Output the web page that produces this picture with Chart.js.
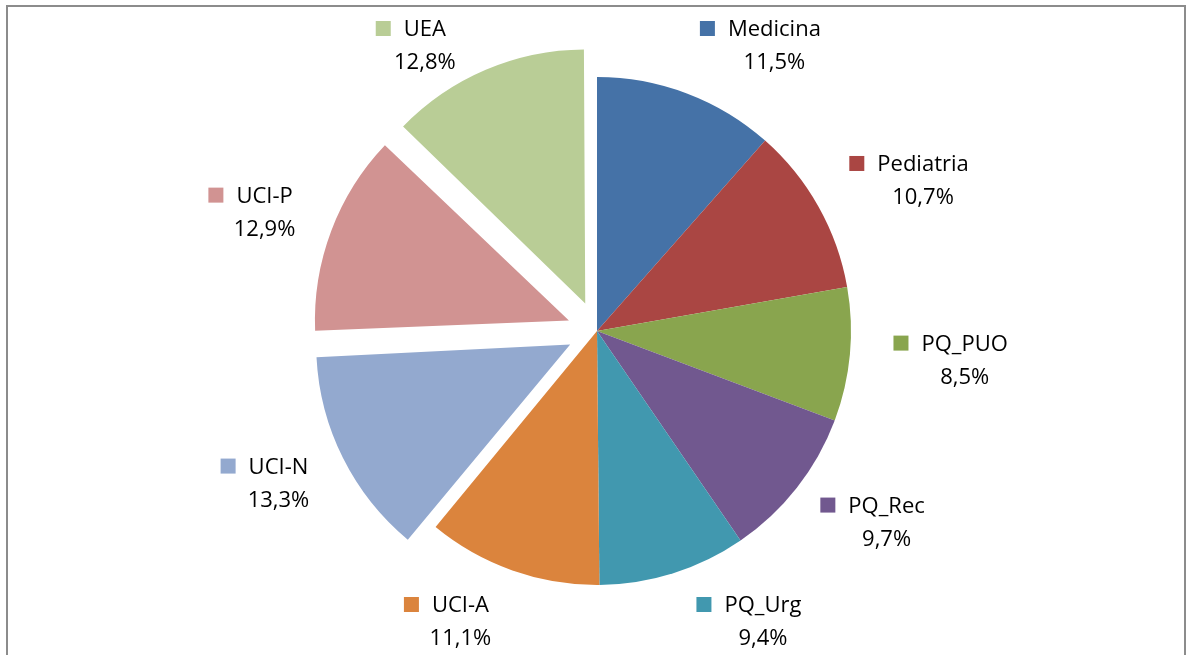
<!DOCTYPE html>
<html>
<head>
<meta charset="utf-8">
<script src="https://cdn.jsdelivr.net/npm/chart.js@4.4.0/dist/chart.umd.min.js"></script>
<style>
  body { margin: 0; background: #fff; }
  canvas { display: block; }
</style>
</head>
<body>
<canvas id="chart" width="1188" height="655"></canvas>
<script>
const categories = ['Medicina', 'Pediatria', 'PQ_PUO', 'PQ_Rec', 'PQ_Urg', 'UCI-A', 'UCI-N', 'UCI-P', 'UEA']
const shares = [11.5, 10.7, 8.5, 9.7, 9.4, 11.1, 13.3, 12.9, 12.8]
const sliceColors = ['#4572A7', '#AA4643', '#89A54E', '#71588F', '#4198AF', '#DB843D', '#93A9CF', '#D19392', '#B9CD96']
const explodedSlices = ['UCI-N', 'UCI-P', 'UEA']

// chart.js v4 moves an arc by offset / 4, so 120 -> 30px
const explodeOffset = 120
const pieRadius = 254
const labelFont = '22px "Open Sans"'
const labelStyle = { gap: 44, keySize: 15, keyGap: 13, lineGap: 33, halfHeight: 27, top: 18, bottom: 648 }

// grey frame of the chart box, its bottom edge is off the picture
const framePlugin = {
  id: 'frame',
  beforeDraw(chart) {
    const ctx = chart.ctx
    ctx.save()
    ctx.strokeStyle = '#8c8c8c'
    ctx.lineWidth = 2
    ctx.strokeRect(7, 6, chart.width - 10, chart.height + 20)
    ctx.restore()
  }
}

// chart.js also grows an exploded arc's radius, Excel doesn't: undo that
const keepRadius = {
  id: 'keepRadius',
  beforeDatasetsDraw(chart) {
    const meta = chart.getDatasetMeta(0)
    const r = meta.controller.outerRadius
    meta.data.forEach(arc => {
      const offset = (arc.options.offset || 0) / 4
      const circ = arc.endAngle - arc.startAngle
      const fix = 1 - Math.sin(Math.min(Math.PI, circ))
      arc.outerRadius = r - offset * fix
    })
  }
}

// "best fit" style labels: key square + name, percentage below
const sliceLabels = {
  id: 'sliceLabels',
  afterDatasetsDraw(chart) {
    const ctx = chart.ctx
    const meta = chart.getDatasetMeta(0)
    const outerRadius = meta.controller.outerRadius
    ctx.save()
    ctx.font = labelFont
    ctx.textBaseline = 'alphabetic'
    meta.data.forEach((arc, i) => {
      const { x, y, startAngle, endAngle } = arc.getProps(['x', 'y', 'startAngle', 'endAngle'])
      const offset = (arc.options.offset || 0) / 4
      const mid = (startAngle + endAngle) / 2
      const ux = Math.cos(mid)
      const uy = Math.sin(mid)
      const name = categories[i]
      const pct = shares[i].toFixed(1).replace('.', ',') + '%'
      const nameW = ctx.measureText(name).width
      const boxW = labelStyle.keySize + labelStyle.keyGap + nameW
      const halfH = labelStyle.halfHeight

      const baseDist = outerRadius + labelStyle.gap
      let cx = (baseDist + offset) * ux + ux * boxW / 2
      let cy = (baseDist + offset) * uy + uy * halfH * 0.4
      const minY = labelStyle.top + halfH - y
      const maxY = labelStyle.bottom - halfH - y
      if (cy < minY || cy > maxY) {
        // pushed against the top/bottom: slide sideways, keep distance
        const bx = (baseDist + offset / 2) * ux + ux * boxW / 2
        const by = (baseDist + offset / 2) * uy + uy * halfH
        const d = Math.hypot(bx, by)
        cy = Math.min(Math.max(cy, minY), maxY)
        cx = Math.sign(ux) * Math.sqrt(Math.max(d * d - cy * cy, 0))
      }
      cx += x
      cy += y

      const left = cx - boxW / 2
      const baseline = cy - 9
      const nameX = left + labelStyle.keySize + labelStyle.keyGap

      ctx.fillStyle = sliceColors[i]
      ctx.fillRect(left, baseline - labelStyle.keySize, labelStyle.keySize, labelStyle.keySize)
      ctx.fillStyle = '#000'
      ctx.textAlign = 'left'
      ctx.fillText(name, nameX, baseline)
      ctx.textAlign = 'center'
      ctx.fillText(pct, nameX + nameW / 2, baseline + labelStyle.lineGap)
    })
    ctx.restore()
  }
}

new Chart(document.getElementById('chart'), {
  type: 'pie',
  data: {
    labels: categories,
    datasets: [{
      data: shares,
      backgroundColor: sliceColors,
      borderWidth: 0,
      hoverOffset: 0,
      radius: pieRadius,
      offset: categories.map(c => explodedSlices.includes(c) ? explodeOffset : 0)
    }]
  },
  options: {
    responsive: false,
    animation: false,
    devicePixelRatio: 1,
    layout: { padding: { top: 17, bottom: 10, left: 300, right: 294 } },
    plugins: {
      legend: { display: false },
      tooltip: { enabled: false }
    }
  },
  plugins: [framePlugin, keepRadius, sliceLabels]
})
</script>
</body>
</html>
